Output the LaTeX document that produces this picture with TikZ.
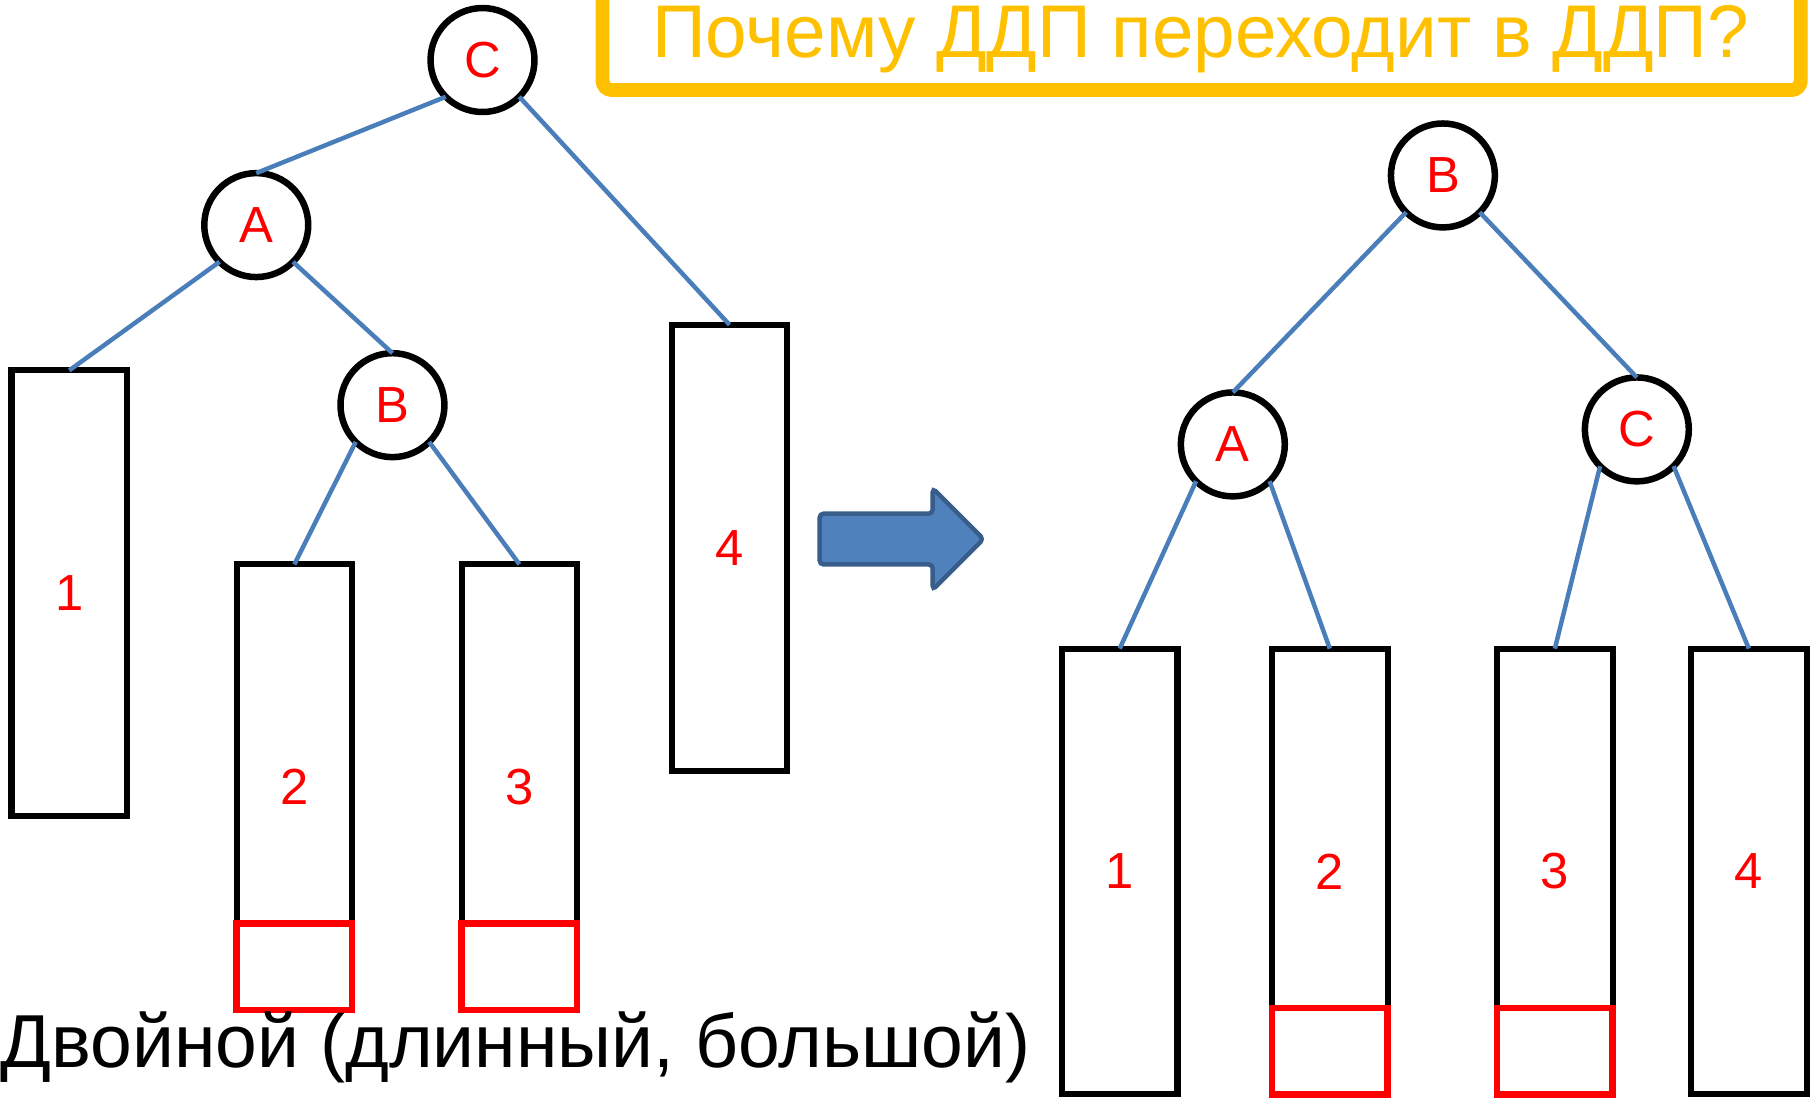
\documentclass[tikz,border=0pt]{standalone}
\usepackage{fontspec}
\setmainfont{Liberation Sans}
\usetikzlibrary{positioning}
\definecolor{edgeblue}{HTML}{4A7EBB}
\definecolor{titleyellow}{HTML}{FFC000}
\definecolor{arrowfill}{HTML}{4F81BD}
\definecolor{arrowline}{HTML}{385D8A}

\begin{document}
\begin{tikzpicture}[x=0.01cm, y=-0.01cm,
        cnode/.style={draw, circle, line width=1.6pt, minimum size=0.9cm, inner sep=0pt, outer sep=0pt,
                      text=red, font=\fontsize{12.5}{14}\selectfont},
        bnode/.style={draw, line width=1.5pt, minimum width=1.0cm, minimum height=3.86cm, inner sep=0pt, outer sep=0pt,
                      text=red, font=\fontsize{12.5}{14}\selectfont},
        rbox/.style={draw=red, line width=1.6pt, minimum width=1.0cm, minimum height=0.75cm, inner sep=0pt, outer sep=0pt, anchor=south},
        tedge/.style={edgeblue, line width=1.1pt}]
    \useasboundingbox (0,0) rectangle (1568,952);
    \clip (0,0) rectangle (1568,952);
    % title frame
    \draw[titleyellow, line width=0.12cm, rounded corners=0.08cm] (522,-30) -- (522,78) -- (1560,78) -- (1560,-30);
    \node[titleyellow, anchor=base, inner sep=0pt, font=\fontsize{18.4}{20}\selectfont] (title) at (1040,50) {Почему ДДП переходит в ДДП?};
    % left tree
    \draw (418,52) node[cnode] (lC) {C}
          (222,195) node[cnode] (lA) {A}
          (340,351) node[cnode] (lB) {B}
          (60,514) node[bnode] (l1) {1}
          (255,682) node[bnode] (l2) {2}
          (450,682) node[bnode] (l3) {3}
          (632,474.5) node[bnode] (l4) {4};
    \node[rbox] (l2r) at (l2.south) {};
    \node[rbox] (l3r) at (l3.south) {};
    \draw[tedge] (lC.south west)--(lA.north);
    \draw[tedge] (lC.south east)--(l4.north);
    \draw[tedge] (lA.south west)--(l1.north);
    \draw[tedge] (lA.south east)--(lB.north);
    \draw[tedge] (lB.south west)--(l2.north);
    \draw[tedge] (lB.south east)--(l3.north);
    % arrow
    \draw[arrowline, fill=arrowfill, line width=1.1pt, rounded corners=1pt]
        (710,445) -- (808,445) -- (808,423) -- (852,467) -- (808,511) -- (808,489) -- (710,489) -- cycle;
    % right tree
    \draw (1250,152) node[cnode] (rB) {B}
          (1068,385) node[cnode] (rA) {A}
          (1418,372) node[cnode] (rC) {C}
          (970,755) node[bnode] (r1) {1}
          (1152,755) node[bnode] (r2) {2}
          (1347,755) node[bnode] (r3) {3}
          (1515,755) node[bnode] (r4) {4};
    \node[rbox] (r2r) at (r2.south) {};
    \node[rbox] (r3r) at (r3.south) {};
    \draw[tedge] (rB.south west)--(rA.north);
    \draw[tedge] (rB.south east)--(rC.north);
    \draw[tedge] (rA.south west)--(r1.north);
    \draw[tedge] (rA.south east)--(r2.north);
    \draw[tedge] (rC.south west)--(r3.north);
    \draw[tedge] (rC.south east)--(r4.north);
    \node[anchor=base west, inner sep=0pt, font=\fontsize{18.5}{20}\selectfont] (caption) at (0,925) {Двойной (длинный, большой)};
\end{tikzpicture}
\end{document}
